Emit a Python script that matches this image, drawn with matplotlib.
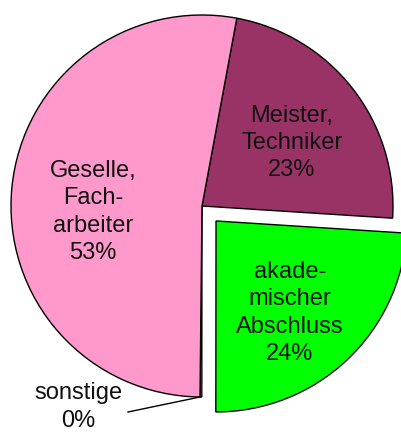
import matplotlib.pyplot as plt

labels = ["Meister,\nTechniker\n23%", "akade-\nmischer\nAbschluss\n24%", "sonstige\n0%", "Geselle,\nFach-\narbeiter\n53%"]
shares = [23.1, 24.0, 0.15, 52.75]
colors = ["#993366", "#00FF00", "#FFFFFF", "#FF99CC"]
explode = [0, 20.5, 0, 0]

W, H = 402, 434
fig = plt.figure(figsize=(W / 100, H / 100), dpi=100)
ax = fig.add_axes([0, 0, 1, 1])

# pixel-like coordinates, y counted from the bottom
cx, cy, r = 202, H - 206, 191
ax.pie(shares, colors=colors, explode=explode, startangle=79.5, counterclock=False,
       center=(cx, cy), radius=r,
       wedgeprops=dict(edgecolor="black", linewidth=1.0))

ax.set_xlim(0, W)
ax.set_ylim(0, H)
ax.set_aspect("equal")
ax.axis("off")

# label positions (pixels from top-left)
label_pos = [(292, 143), (290, 313), (78, 407), (93, 212)]
for txt, (px, py) in zip(labels, label_pos):
    ax.text(px, H - py, txt, ha="center", va="center", fontsize=17,
            family="Liberation Sans", linespacing=1.32, color="#111111")

# leader line for the tiny slice
ax.plot([128, 200], [H - 412, H - 397], color="black", lw=1.0)

fig.savefig("out.png", dpi=100)
